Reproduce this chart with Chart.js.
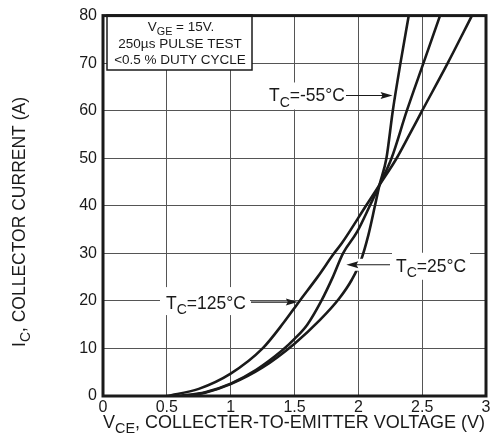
<!DOCTYPE html>
<html>
<head>
<meta charset="utf-8">
<script src="https://cdn.jsdelivr.net/npm/chart.js@4.4.1/dist/chart.umd.min.js"></script>
<style>
  html, body { margin: 0; padding: 0; background: #fff; }
  #wrap { width: 494px; height: 447px; }
</style>
</head>
<body>
<div id="wrap"><canvas id="c" width="494" height="447"></canvas></div>
<script>
// curves: V_CE (V) vs I_C (A)
const vce125 = [0.5, 0.75, 1.0, 1.25, 1.42, 1.54, 1.68, 1.81, 1.87, 2.06, 2.166, 2.3, 2.395, 2.5, 2.7, 2.89];
const ic125  = [0, 1.5, 4.7, 10, 15.6, 20, 25, 30, 32.1, 40, 44.4, 50, 54.7, 60, 70, 80];

const vce25 = [0.6, 0.8, 1.0, 1.2, 1.4, 1.5, 1.6, 1.71, 1.8, 1.88, 1.99, 2.09, 2.166, 2.26, 2.38, 2.51, 2.64];
const ic25  = [0, 0.8, 2.6, 5.5, 9.5, 12, 15, 20, 25, 30, 34.5, 40, 44.4, 50, 60, 70, 80];

const vce55 = [0.65, 0.8, 1.0, 1.25, 1.5, 1.7, 1.85, 1.95, 2.02, 2.08, 2.13, 2.166, 2.22, 2.27, 2.33, 2.395];
const ic55  = [0, 0.7, 2.5, 6, 11, 16, 20.5, 24.5, 28.5, 34, 40, 44.4, 50, 60, 70, 80];

const xTicks = ['0', '0.5', '1', '1.5', '2', '2.5', '3'];
const yTicks = ['0', '10', '20', '30', '40', '50', '60', '70', '80'];

const FONT = '"Liberation Sans", Arial, sans-serif';
const INK = '#1a1a1a';

function toPoints(xs, ys) {
  return xs.map((x, i) => ({ x: x, y: ys[i] }));
}

function curve(label, xs, ys) {
  return {
    label: label,
    data: toPoints(xs, ys),
    showLine: true,
    borderColor: INK,
    borderWidth: 2.6,
    pointRadius: 0,
    cubicInterpolationMode: 'monotone',
    fill: false
  };
}

// text with a subscript, e.g. T + C + "=25°C"
function subText(ctx, x, y, main, sub, rest, size, align, subRatio) {
  const ss = size * (subRatio || 0.72);
  ctx.font = size + 'px ' + FONT;
  const w1 = ctx.measureText(main).width;
  const w3 = ctx.measureText(rest).width;
  ctx.font = ss + 'px ' + FONT;
  const w2 = ctx.measureText(sub).width;
  const total = w1 + w2 + w3;
  let x0 = x;
  if (align === 'center') x0 = x - total / 2;
  if (align === 'right') x0 = x - total;
  ctx.textAlign = 'left';
  ctx.textBaseline = 'alphabetic';
  ctx.font = size + 'px ' + FONT;
  ctx.fillText(main, x0, y);
  ctx.font = ss + 'px ' + FONT;
  ctx.fillText(sub, x0 + w1, y + size * 0.3);
  ctx.font = size + 'px ' + FONT;
  ctx.fillText(rest, x0 + w1 + w2, y);
  return { x0: x0, w: total };
}

function arrow(ctx, x1, y, x2) {
  // line from x1 to tip at x2
  const dir = x2 > x1 ? 1 : -1;
  ctx.strokeStyle = INK;
  ctx.lineWidth = 1.2;
  ctx.beginPath();
  ctx.moveTo(x1, y);
  ctx.lineTo(x2 - dir * 8, y);
  ctx.stroke();
  ctx.fillStyle = INK;
  ctx.beginPath();
  ctx.moveTo(x2, y);
  ctx.lineTo(x2 - dir * 12, y - 3.5);
  ctx.lineTo(x2 - dir * 10, y);
  ctx.lineTo(x2 - dir * 12, y + 3.5);
  ctx.closePath();
  ctx.fill();
}

const decor = {
  id: 'decor',
  afterDatasetsDraw(chart) {
    const ctx = chart.ctx;
    const a = chart.chartArea;
    const xs = chart.scales.x, ys = chart.scales.y;
    ctx.save();

    // condition box
    ctx.fillStyle = '#fff';
    ctx.fillRect(107, 15, 145, 55);
    ctx.strokeStyle = INK;
    ctx.lineWidth = 1.5;
    ctx.strokeRect(107, 15, 145, 55);
    ctx.fillStyle = INK;
    subText(ctx, 181, 31, 'V', 'GE', ' = 15V.', 13.5, 'center', 0.8);
    ctx.font = '13.5px ' + FONT;
    ctx.textAlign = 'center';
    ctx.fillText('250µs PULSE TEST', 180, 48);
    ctx.fillText('<0.5 % DUTY CYCLE', 180, 64);

    // T_C = -55°C
    let tx = xs.getPixelForValue(2.268), ty = ys.getPixelForValue(63.2);
    ctx.fillStyle = '#fff';
    ctx.fillRect(266, ty - 13, 78, 27);
    ctx.fillStyle = INK;
    subText(ctx, 269, ty + 6, 'T', 'C', '=-55°C', 17.5, 'left', 0.8);
    arrow(ctx, 346, ty, tx);

    // T_C = 25°C
    tx = xs.getPixelForValue(1.906); ty = ys.getPixelForValue(27.6);
    ctx.fillStyle = '#fff';
    ctx.fillRect(392, ty - 12, 78, 27);
    ctx.fillRect(352, ty - 6, 40, 12);
    ctx.fillStyle = INK;
    subText(ctx, 396, ty + 7, 'T', 'C', '=25°C', 17.5, 'left', 0.8);
    arrow(ctx, 390, ty, tx);

    // T_C = 125°C
    tx = xs.getPixelForValue(1.526); ty = ys.getPixelForValue(19.75);
    ctx.fillStyle = '#fff';
    ctx.fillRect(160, ty - 15, 90, 28);
    ctx.fillStyle = INK;
    subText(ctx, 166, ty + 7, 'T', 'C', '=125°C', 17.5, 'left', 0.8);
    arrow(ctx, 251, ty, tx);

    // frame
    ctx.strokeStyle = INK;
    ctx.lineWidth = 3;
    ctx.strokeRect(a.left, a.top, a.right - a.left, a.bottom - a.top);

    // axis titles
    ctx.fillStyle = INK;
    subText(ctx, 294, 428, 'V', 'CE', ', COLLECTER-TO-EMITTER VOLTAGE (V)', 18, 'center', 0.8);
    ctx.translate(25, 222);
    ctx.rotate(-Math.PI / 2);
    subText(ctx, 0, 0, 'I', 'C', ', COLLECTOR CURRENT (A)', 17.5, 'center', 0.8);
    ctx.restore();
  }
};

new Chart(document.getElementById('c'), {
  type: 'scatter',
  data: {
    datasets: [
      curve('TC=125°C', vce125, ic125),
      curve('TC=25°C', vce25, ic25),
      curve('TC=-55°C', vce55, ic55)
    ]
  },
  options: {
    responsive: false,
    animation: false,
    layout: { padding: { top: 8, right: 8, left: 0, bottom: 0 } },
    plugins: {
      legend: { display: false },
      tooltip: { enabled: false }
    },
    scales: {
      x: {
        type: 'linear',
        min: 0, max: 3,
        afterFit: (s) => { s.height = 51; },
        ticks: {
          stepSize: 0.5,
          padding: 2,
          color: INK,
          font: { family: FONT, size: 16 },
          callback: (v) => xTicks[Math.round(v * 2)]
        },
        grid: { color: '#555', lineWidth: 1, drawTicks: false },
        border: { display: false }
      },
      y: {
        type: 'linear',
        min: 0, max: 80,
        afterFit: (s) => { s.width = 103; },
        ticks: {
          stepSize: 10,
          padding: 6,
          color: INK,
          font: { family: FONT, size: 16 },
          callback: (v) => yTicks[Math.round(v / 10)]
        },
        grid: { color: '#555', lineWidth: 1, drawTicks: false },
        border: { display: false }
      }
    }
  },
  plugins: [decor]
});
</script>
</body>
</html>
